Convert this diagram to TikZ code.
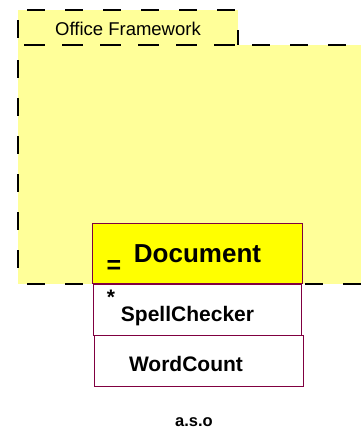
\documentclass[tikz,border=0pt]{standalone}
\usepackage{fontspec}
\setmainfont{Liberation Sans}
\definecolor{lightyel}{HTML}{FFFF99}
\definecolor{docyel}{HTML}{FFFF00}
\definecolor{maroon}{HTML}{800040}
\tikzset{
  frame/.style={draw=black, line width=2pt, dash pattern=on 18pt off 20pt},
  classbox/.style={draw=maroon, line width=1pt},
  lbl/.style={anchor=base, inner sep=0pt, font=\bfseries\fontsize{21}{25}\selectfont}
}
\begin{document}
\begin{tikzpicture}[x=1pt,y=-1pt]
\useasboundingbox (0,0) rectangle (361,432);
\clip (0,0) rectangle (361,432);
% package fill
\fill[lightyel] (18,10) rectangle (238,45);
\fill[lightyel] (18,45) rectangle (380,284);
% package frame
\draw[frame, dash phase=28pt] (18,10) -- (18,45);
\draw[frame, dash phase=29pt] (18,10) -- (238,10);
\draw[frame, dash phase=18pt] (238,10) -- (238,45);
\draw[frame, dash phase=29pt] (18,45) -- (238,45);
\draw[frame, dash phase=32pt] (18,45) -- (380,45);
\draw[frame, dash phase=23pt] (18,45) -- (18,284);
\draw[frame, dash phase=29pt] (18,284) -- (92,284);
\draw[frame, dash phase=35pt] (302,284) -- (380,284);
\node[anchor=base, inner sep=0pt, font=\fontsize{18.5}{22}\selectfont] (pkg) at (128,35) {Office Framework};
% boxes
\path[classbox, fill=docyel] (92,223) rectangle (302,283);
\path[classbox, fill=white] (93,284) rectangle (301,335);
\path[classbox, fill=white] (94,335) rectangle (303,386);
\node[lbl, font=\bfseries\fontsize{26}{31}\selectfont] (doc) at (197.5,262) {Document};
\node[lbl, font=\bfseries\fontsize{25}{30}\selectfont] (eq) at (114,273) {=};
\node[lbl] (star) at (111,304) {*};
\node[lbl] (spell) at (187.5,321) {SpellChecker};
\node[lbl] (wc) at (186,371) {WordCount};
\node[lbl, font=\bfseries\fontsize{16.5}{20}\selectfont] (aso) at (194,426) {a.s.o};
\end{tikzpicture}
\end{document}
